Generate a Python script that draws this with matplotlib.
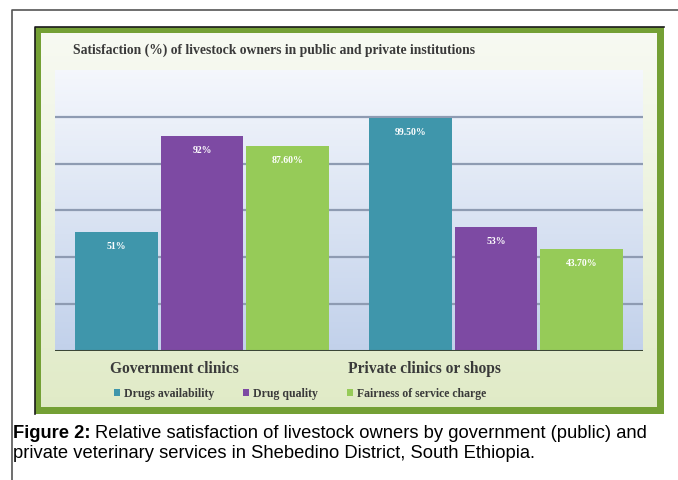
import matplotlib.pyplot as plt
from matplotlib import patches
from matplotlib import font_manager
import numpy as np

categories = ["Government clinics", "Private clinics or shops"]
series_names = ["Drugs availability", "Drug quality", "Fairness of service charge"]
drugs_availability = [51, 99.5]
drug_quality = [92, 53]
fairness_charge = [87.6, 43.7]
labels_availability = ["51%", "99.50%"]
labels_quality = ["92%", "53%"]
labels_fairness = ["87.60%", "43.70%"]

colors = ["#3f96ab", "#7d4aa3", "#96cb58"]
serif = ["Liberation Serif", "DejaVu Serif"]
W, H = 678, 480

names = {f.name for f in font_manager.fontManager.ttflist}
if "Liberation Sans Narrow" in names:
    cap_family, cap_size = "Liberation Sans Narrow", 15
else:
    cap_family, cap_size = "Liberation Sans", 13.2

fig = plt.figure(figsize=(W / 100, H / 100), dpi=100)

# background layer in pixel coords
bg = fig.add_axes([0, 0, 1, 1], zorder=0)
bg.axis("off")

bg.plot([12, 12, W], [H, 10, 10], color="#555555", lw=1.2)

# green frame with pale inner gradient
bg.add_patch(patches.Rectangle((35, 27), 629, 387, facecolor="#74a035",
                               edgecolor="none", zorder=1))
bg.plot([35, 35, 664], [414, 27, 27], color="#1a1a1a", lw=1.2, zorder=2)
grad = np.linspace(0, 1, 256)[:, None]
top_c = np.array([0.97, 0.98, 0.95])
bot_c = np.array([0.88, 0.92, 0.78])
inner = top_c + (bot_c - top_c) * grad[..., None]
bg.imshow(np.repeat(inner, 2, axis=1), extent=(41, 657, 407, 33),
          aspect="auto", interpolation="bilinear", zorder=2)
bg.set_xlim(0, W)
bg.set_ylim(H, 0)

bg.text(73, 50, "Satisfaction (%) of livestock owners in public and private institutions",
        family=serif, fontweight="bold", fontsize=9.8, color="#3a3a3a",
        va="center", ha="left", zorder=3)

bg.text(110, 369, categories[0], family=serif, fontweight="bold",
        fontsize=11.2, color="#3a3a3a", va="center", ha="left", zorder=3)
bg.text(348, 369, categories[1], family=serif, fontweight="bold",
        fontsize=11.2, color="#3a3a3a", va="center", ha="left", zorder=3)

t1 = bg.text(13, 433, "Figure 2:", family=cap_family, fontweight="bold",
             fontsize=cap_size, va="center", ha="left")
fig.canvas.draw()
ext = t1.get_window_extent()
x_after = ext.x1 + 5
bg.text(x_after / W, 1 - 433 / H,
        "Relative satisfaction of livestock owners by government (public) and",
        family=cap_family, fontsize=cap_size, va="center", ha="left",
        transform=fig.transFigure)
bg.text(13, 454, "private veterinary services in Shebedino District, South Ethiopia.",
        family=cap_family, fontsize=cap_size, va="center", ha="left")

# main chart
ax = fig.add_axes([55 / W, (H - 351) / H, 588 / W, (351 - 70) / H], zorder=1)
ax.set_facecolor("none")

pgrad = np.linspace(0, 1, 256)[:, None]
ptop = np.array([0.96, 0.97, 0.99])
pbot = np.array([0.76, 0.82, 0.92])
pimg = ptop + (pbot - ptop) * pgrad[..., None]
ax.imshow(np.repeat(pimg, 2, axis=1), extent=(0, 1, 0, 1), transform=ax.transAxes,
          aspect="auto", interpolation="bilinear", zorder=0)
ax.set_xlim(-0.5, 1.5)
ax.set_ylim(0, 120)

for yv in [20, 40, 60, 80, 100]:
    ax.axhline(yv, color="#8e9bb2", lw=1.6, zorder=1)

x = np.arange(len(categories))
bw = 0.29
series = [drugs_availability, drug_quality, fairness_charge]
bar_labels = [labels_availability, labels_quality, labels_fairness]
handles = []
for i, (vals, labs) in enumerate(zip(series, bar_labels)):
    bars = ax.bar(x + (i - 1) * bw, vals, width=bw * 0.97, color=colors[i],
                  zorder=2, label=series_names[i])
    handles.append(bars)
    ax.bar_label(bars, labels=labs, padding=-14, color="white",
                 fontsize=7, fontweight="bold", family=serif)

ax.axhline(0, color="#3b4636", lw=2.2, zorder=3)
for s in ax.spines.values():
    s.set_visible(False)
ax.set_xticks([])
ax.set_yticks([])

fig.legend(handles=handles, labels=series_names, loc="center left",
           bbox_to_anchor=(103 / W, 1 - 394 / H), ncol=3, frameon=False,
           prop={"family": serif, "weight": "bold", "size": 8.5},
           handlelength=0.5, handleheight=0.5, handletextpad=0.4,
           columnspacing=2.4, labelcolor="#3a3a3a")

fig.savefig("out.png", dpi=100)
